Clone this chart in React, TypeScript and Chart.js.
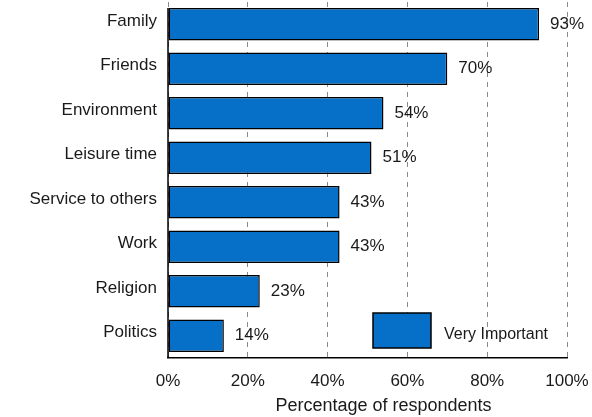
import React, { useEffect, useRef } from "react";
import { Chart, registerables } from "chart.js";

Chart.register(...registerables);

const categories = ["Family", "Friends", "Environment", "Leisure time", "Service to others", "Work", "Religion", "Politics"];
const veryImportant = [93, 70, 54, 51, 43, 43, 23, 14];
const seriesLabel = "Very Important";
const axisTitle = "Percentage of respondents";
const xMin = 0;
const xMax = 100;
const xStep = 20;

const FONT = "'Liberation Sans', Arial, sans-serif";
const BAR_COLOR = "#0670C8";
const TEXT_COLOR = "#1a1a1a";

const valueLabelPlugin = {
  id: "valueLabels",
  afterDatasetsDraw(chart: any) {
    const { ctx, chartArea } = chart;
    const meta = chart.getDatasetMeta(0);
    ctx.save();
    // left axis line starting at the top of the first bar
    if (meta.data.length) {
      const first = meta.data[0];
      ctx.strokeStyle = "#000";
      ctx.lineWidth = 1.5;
      ctx.beginPath();
      ctx.moveTo(chartArea.left, first.y - first.height / 2);
      ctx.lineTo(chartArea.left, chartArea.bottom);
      ctx.stroke();
    }
    ctx.font = `17px ${FONT}`;
    ctx.fillStyle = TEXT_COLOR;
    ctx.textAlign = "left";
    ctx.textBaseline = "middle";
    meta.data.forEach((bar: any, i: number) => {
      ctx.fillText(`${veryImportant[i]}%`, bar.x + 11, bar.y);
    });
    ctx.restore();
  },
};

const legendPlugin = {
  id: "insideLegend",
  afterDraw(chart: any) {
    const { ctx, chartArea } = chart;
    const bx = chartArea.left + 205;
    const by = chartArea.bottom - 45;
    ctx.save();
    ctx.fillStyle = BAR_COLOR;
    ctx.fillRect(bx, by, 58, 35);
    ctx.strokeStyle = "#000";
    ctx.lineWidth = 1.5;
    ctx.strokeRect(bx, by, 58, 35);
    ctx.font = `16px ${FONT}`;
    ctx.fillStyle = TEXT_COLOR;
    ctx.textAlign = "left";
    ctx.textBaseline = "middle";
    ctx.fillText(chart.data.datasets[0].label, bx + 71, by + 22);
    ctx.restore();
  },
};

const axisTitlePlugin = {
  id: "axisTitle",
  afterDraw(chart: any) {
    const { ctx, chartArea } = chart;
    ctx.save();
    ctx.font = `18px ${FONT}`;
    ctx.fillStyle = TEXT_COLOR;
    ctx.textAlign = "center";
    ctx.textBaseline = "middle";
    ctx.fillText(axisTitle, (chartArea.left + chartArea.right) / 2 + 16, chartArea.bottom + 48);
    ctx.restore();
  },
};

export default function App() {
  const ref = useRef<HTMLCanvasElement | null>(null);
  useEffect(() => {
    if (!ref.current) return;
    const chart = new Chart(ref.current, {
      type: "bar",
      data: {
        labels: categories,
        datasets: [
          {
            label: seriesLabel,
            data: veryImportant,
            backgroundColor: BAR_COLOR,
            borderColor: "#000",
            borderWidth: 1.5,
            borderSkipped: false,
            barPercentage: 0.73,
            categoryPercentage: 1,
          },
        ],
      },
      options: {
        indexAxis: "y",
        animation: false,
        responsive: false,
        maintainAspectRatio: false,
        layout: { padding: { top: 2, right: 25, left: 0, bottom: 0 } },
        plugins: {
          legend: { display: false },
          tooltip: { enabled: false },
          title: { display: false },
        },
        scales: {
          x: {
            min: xMin,
            max: xMax,
            grid: {
              display: true,
              color: "#8a8a8a",
              lineWidth: 1,
              drawTicks: false,
            },
            border: { display: true, color: "#000", width: 1.5, dash: [5, 5] } as any,
            ticks: {
              stepSize: xStep,
              padding: 13,
              color: TEXT_COLOR,
              font: { family: FONT, size: 17 },
              callback: (v: any) => `${v}%`,
            },
            afterFit: (scale: any) => {
              scale.height = 59;
              scale.paddingLeft = 0;
              scale.paddingRight = 0;
            },
          },
          y: {
            grid: { display: false, drawTicks: false },
            border: { display: false },
            ticks: {
              padding: 11,
              labelOffset: -3,
              color: TEXT_COLOR,
              font: { family: FONT, size: 17 },
            },
            afterFit: (scale: any) => {
              scale.width = 168;
              scale.paddingTop = 0;
              scale.paddingBottom = 0;
            },
          },
        },
      },
      plugins: [valueLabelPlugin, legendPlugin, axisTitlePlugin],
    });
    return () => chart.destroy();
  }, []);

  return (
    <div style={{ position: "absolute", left: 0, top: 0, width: 592, height: 417, background: "#fff" }}>
      <canvas ref={ref} width={592} height={417} style={{ width: 592, height: 417 }} />
    </div>
  );
}
